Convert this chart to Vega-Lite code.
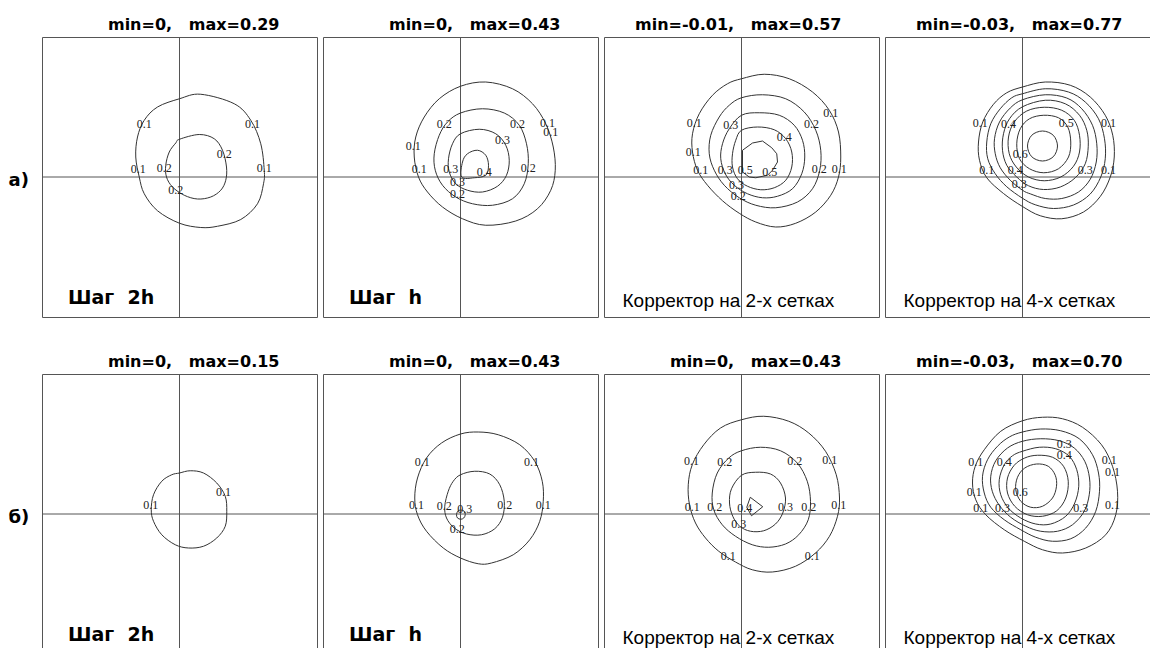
{
  "$schema": "https://vega.github.io/schema/vega-lite/v6.json",
  "padding": {"left": 8, "top": 16, "right": 0, "bottom": 0},
  "background": "white",
  "bounds": "flush",
  "spacing": {"row": 57, "column": 6},
  "data": {
    "values": [
      {"p":"a1","k":"h","t":"min=0,\u00a0\u00a0\u00a0max=0.29"},
      {"p":"a2","k":"h","t":"min=0,\u00a0\u00a0\u00a0max=0.43"},
      {"p":"a3","k":"h","t":"min=-0.01,\u00a0\u00a0\u00a0max=0.57"},
      {"p":"a4","k":"h","t":"min=-0.03,\u00a0\u00a0\u00a0max=0.77"},
      {"p":"b1","k":"h","t":"min=0,\u00a0\u00a0\u00a0max=0.15"},
      {"p":"b2","k":"h","t":"min=0,\u00a0\u00a0\u00a0max=0.43"},
      {"p":"b3","k":"h","t":"min=0,\u00a0\u00a0\u00a0max=0.43"},
      {"p":"b4","k":"h","t":"min=-0.03,\u00a0\u00a0\u00a0max=0.70"},
      {"p":"a1","k":"r","t":"а)"},
      {"p":"b1","k":"r","t":"б)"},
      {"p":"a1","k":"s","t":"Шаг\u00a0\u00a02h"},
      {"p":"a2","k":"s","t":"Шаг\u00a0\u00a0h"},
      {"p":"b1","k":"s","t":"Шаг\u00a0\u00a02h"},
      {"p":"b2","k":"s","t":"Шаг\u00a0\u00a0h"},
      {"p":"a3","k":"m","t":"Корректор на 2-х сетках"},
      {"p":"a4","k":"m","t":"Корректор на 4-х сетках"},
      {"p":"b3","k":"m","t":"Корректор на 2-х сетках"},
      {"p":"b4","k":"m","t":"Корректор на 4-х сетках"},

      {"p":"a1","k":"c","c":1,"x":0,"y":3.13},{"p":"a1","k":"c","c":1,"x":0.85,"y":3.31},{"p":"a1","k":"c","c":1,"x":2.19,"y":2.93},{"p":"a1","k":"c","c":1,"x":2.85,"y":2.27},{"p":"a1","k":"c","c":1,"x":3.25,"y":1.33},{"p":"a1","k":"c","c":1,"x":3.39,"y":0.27},{"p":"a1","k":"c","c":1,"x":3.36,"y":-0.27},{"p":"a1","k":"c","c":1,"x":3.12,"y":-1.07},{"p":"a1","k":"c","c":1,"x":2.45,"y":-1.7},{"p":"a1","k":"c","c":1,"x":1.52,"y":-1.97},{"p":"a1","k":"c","c":1,"x":0.85,"y":-2.02},{"p":"a1","k":"c","c":1,"x":0,"y":-1.85},{"p":"a1","k":"c","c":1,"x":-0.88,"y":-1.35},{"p":"a1","k":"c","c":1,"x":-1.41,"y":-0.67},{"p":"a1","k":"c","c":1,"x":-1.61,"y":0},{"p":"a1","k":"c","c":1,"x":-1.75,"y":0.8},{"p":"a1","k":"c","c":1,"x":-1.68,"y":1.6},{"p":"a1","k":"c","c":1,"x":-1.41,"y":2.27},{"p":"a1","k":"c","c":1,"x":-0.88,"y":2.8},
      {"p":"a1","k":"c","c":2,"x":0,"y":1.51},{"p":"a1","k":"c","c":2,"x":0.79,"y":1.7},{"p":"a1","k":"c","c":2,"x":1.39,"y":1.53},{"p":"a1","k":"c","c":2,"x":1.72,"y":1.07},{"p":"a1","k":"c","c":2,"x":1.88,"y":0.4},{"p":"a1","k":"c","c":2,"x":1.85,"y":-0.13},{"p":"a1","k":"c","c":2,"x":1.65,"y":-0.53},{"p":"a1","k":"c","c":2,"x":1.25,"y":-0.8},{"p":"a1","k":"c","c":2,"x":0.72,"y":-0.88},{"p":"a1","k":"c","c":2,"x":0.19,"y":-0.73},{"p":"a1","k":"c","c":2,"x":-0.28,"y":-0.4},{"p":"a1","k":"c","c":2,"x":-0.52,"y":0},{"p":"a1","k":"c","c":2,"x":-0.55,"y":0.47},{"p":"a1","k":"c","c":2,"x":-0.41,"y":1.0},{"p":"a1","k":"c","c":2,"x":-0.15,"y":1.36},
      {"p":"a1","k":"t","t":"0.1","x":-1.41,"y":2.13},{"p":"a1","k":"t","t":"0.1","x":2.92,"y":2.11},{"p":"a1","k":"t","t":"0.1","x":-1.65,"y":0.33},{"p":"a1","k":"t","t":"0.1","x":3.39,"y":0.37},{"p":"a1","k":"t","t":"0.2","x":1.79,"y":0.93},{"p":"a1","k":"t","t":"0.2","x":-0.61,"y":0.37},{"p":"a1","k":"t","t":"0.2","x":-0.15,"y":-0.53},

      {"p":"a2","k":"c","c":1,"x":0,"y":3.63},{"p":"a2","k":"c","c":1,"x":1.01,"y":3.8},{"p":"a2","k":"c","c":1,"x":2.08,"y":3.53},{"p":"a2","k":"c","c":1,"x":2.88,"y":2.93},{"p":"a2","k":"c","c":1,"x":3.41,"y":2.13},{"p":"a2","k":"c","c":1,"x":3.71,"y":1.2},{"p":"a2","k":"c","c":1,"x":3.79,"y":0.27},{"p":"a2","k":"c","c":1,"x":3.61,"y":-0.53},{"p":"a2","k":"c","c":1,"x":3.08,"y":-1.27},{"p":"a2","k":"c","c":1,"x":2.21,"y":-1.76},{"p":"a2","k":"c","c":1,"x":1.01,"y":-1.93},{"p":"a2","k":"c","c":1,"x":0.08,"y":-1.67},{"p":"a2","k":"c","c":1,"x":-0.72,"y":-1.2},{"p":"a2","k":"c","c":1,"x":-1.32,"y":-0.6},{"p":"a2","k":"c","c":1,"x":-1.68,"y":0},{"p":"a2","k":"c","c":1,"x":-1.85,"y":0.8},{"p":"a2","k":"c","c":1,"x":-1.79,"y":1.6},{"p":"a2","k":"c","c":1,"x":-1.45,"y":2.4},{"p":"a2","k":"c","c":1,"x":-0.85,"y":3.13},
      {"p":"a2","k":"c","c":2,"x":0,"y":2.56},{"p":"a2","k":"c","c":2,"x":0.88,"y":2.73},{"p":"a2","k":"c","c":2,"x":1.75,"y":2.56},{"p":"a2","k":"c","c":2,"x":2.35,"y":2.07},{"p":"a2","k":"c","c":2,"x":2.64,"y":1.33},{"p":"a2","k":"c","c":2,"x":2.71,"y":0.53},{"p":"a2","k":"c","c":2,"x":2.55,"y":-0.27},{"p":"a2","k":"c","c":2,"x":2.08,"y":-0.87},{"p":"a2","k":"c","c":2,"x":1.28,"y":-1.13},{"p":"a2","k":"c","c":2,"x":0.48,"y":-1.07},{"p":"a2","k":"c","c":2,"x":-0.19,"y":-0.8},{"p":"a2","k":"c","c":2,"x":-0.72,"y":-0.33},{"p":"a2","k":"c","c":2,"x":-1.01,"y":0.27},{"p":"a2","k":"c","c":2,"x":-1.05,"y":0.93},{"p":"a2","k":"c","c":2,"x":-0.85,"y":1.67},{"p":"a2","k":"c","c":2,"x":-0.52,"y":2.2},
      {"p":"a2","k":"c","c":3,"x":0,"y":1.73},{"p":"a2","k":"c","c":3,"x":0.75,"y":1.91},{"p":"a2","k":"c","c":3,"x":1.41,"y":1.73},{"p":"a2","k":"c","c":3,"x":1.81,"y":1.27},{"p":"a2","k":"c","c":3,"x":1.95,"y":0.67},{"p":"a2","k":"c","c":3,"x":1.84,"y":0.07},{"p":"a2","k":"c","c":3,"x":1.48,"y":-0.37},{"p":"a2","k":"c","c":3,"x":0.88,"y":-0.6},{"p":"a2","k":"c","c":3,"x":0.28,"y":-0.53},{"p":"a2","k":"c","c":3,"x":-0.19,"y":-0.27},{"p":"a2","k":"c","c":3,"x":-0.45,"y":0.2},{"p":"a2","k":"c","c":3,"x":-0.48,"y":0.73},{"p":"a2","k":"c","c":3,"x":-0.32,"y":1.33},
      {"p":"a2","k":"c","c":4,"x":0.05,"y":0},{"p":"a2","k":"c","c":4,"x":0.08,"y":0.6},{"p":"a2","k":"c","c":4,"x":0.28,"y":0.93},{"p":"a2","k":"c","c":4,"x":0.68,"y":1.07},{"p":"a2","k":"c","c":4,"x":1.01,"y":0.87},{"p":"a2","k":"c","c":4,"x":1.12,"y":0.47},{"p":"a2","k":"c","c":4,"x":1.01,"y":0.07},{"p":"a2","k":"c","c":4,"x":0.55,"y":-0.03},
      {"p":"a2","k":"t","t":"0.2","x":-0.65,"y":2.11},{"p":"a2","k":"t","t":"0.2","x":2.28,"y":2.11},{"p":"a2","k":"t","t":"0.1","x":3.48,"y":2.17},{"p":"a2","k":"t","t":"0.1","x":3.61,"y":1.8},{"p":"a2","k":"t","t":"0.3","x":1.68,"y":1.49},{"p":"a2","k":"t","t":"0.1","x":-1.89,"y":1.23},{"p":"a2","k":"t","t":"0.1","x":-1.65,"y":0.33},{"p":"a2","k":"t","t":"0.3","x":-0.39,"y":0.33},{"p":"a2","k":"t","t":"0.4","x":0.95,"y":0.2},{"p":"a2","k":"t","t":"0.2","x":2.71,"y":0.37},{"p":"a2","k":"t","t":"0.3","x":-0.12,"y":-0.2},{"p":"a2","k":"t","t":"0.2","x":-0.12,"y":-0.69},

      {"p":"a3","k":"c","c":1,"x":0,"y":3.93},{"p":"a3","k":"c","c":1,"x":0.91,"y":4.11},{"p":"a3","k":"c","c":1,"x":1.91,"y":3.93},{"p":"a3","k":"c","c":1,"x":2.84,"y":3.4},{"p":"a3","k":"c","c":1,"x":3.51,"y":2.67},{"p":"a3","k":"c","c":1,"x":3.88,"y":1.8},{"p":"a3","k":"c","c":1,"x":3.97,"y":0.8},{"p":"a3","k":"c","c":1,"x":3.88,"y":0},{"p":"a3","k":"c","c":1,"x":3.57,"y":-0.73},{"p":"a3","k":"c","c":1,"x":2.97,"y":-1.4},{"p":"a3","k":"c","c":1,"x":2.17,"y":-1.85},{"p":"a3","k":"c","c":1,"x":1.37,"y":-2.0},{"p":"a3","k":"c","c":1,"x":0.57,"y":-1.8},{"p":"a3","k":"c","c":1,"x":-0.09,"y":-1.45},{"p":"a3","k":"c","c":1,"x":-0.76,"y":-0.95},{"p":"a3","k":"c","c":1,"x":-1.36,"y":-0.33},{"p":"a3","k":"c","c":1,"x":-1.76,"y":0.27},{"p":"a3","k":"c","c":1,"x":-1.96,"y":1.0},{"p":"a3","k":"c","c":1,"x":-1.96,"y":1.73},{"p":"a3","k":"c","c":1,"x":-1.69,"y":2.53},{"p":"a3","k":"c","c":1,"x":-1.16,"y":3.27},{"p":"a3","k":"c","c":1,"x":-0.56,"y":3.73},
      {"p":"a3","k":"c","c":2,"x":0,"y":3.17},{"p":"a3","k":"c","c":2,"x":0.84,"y":3.29},{"p":"a3","k":"c","c":2,"x":1.77,"y":3.13},{"p":"a3","k":"c","c":2,"x":2.51,"y":2.6},{"p":"a3","k":"c","c":2,"x":2.97,"y":1.87},{"p":"a3","k":"c","c":2,"x":3.17,"y":1.07},{"p":"a3","k":"c","c":2,"x":3.13,"y":0.27},{"p":"a3","k":"c","c":2,"x":2.84,"y":-0.47},{"p":"a3","k":"c","c":2,"x":2.24,"y":-1.0},{"p":"a3","k":"c","c":2,"x":1.37,"y":-1.23},{"p":"a3","k":"c","c":2,"x":0.57,"y":-1.13},{"p":"a3","k":"c","c":2,"x":-0.09,"y":-0.83},{"p":"a3","k":"c","c":2,"x":-0.69,"y":-0.33},{"p":"a3","k":"c","c":2,"x":-1.09,"y":0.27},{"p":"a3","k":"c","c":2,"x":-1.29,"y":0.93},{"p":"a3","k":"c","c":2,"x":-1.23,"y":1.67},{"p":"a3","k":"c","c":2,"x":-0.89,"y":2.4},{"p":"a3","k":"c","c":2,"x":-0.49,"y":2.87},
      {"p":"a3","k":"c","c":3,"x":0,"y":2.47},{"p":"a3","k":"c","c":3,"x":0.71,"y":2.57},{"p":"a3","k":"c","c":3,"x":1.51,"y":2.47},{"p":"a3","k":"c","c":3,"x":2.11,"y":2.07},{"p":"a3","k":"c","c":3,"x":2.44,"y":1.47},{"p":"a3","k":"c","c":3,"x":2.53,"y":0.8},{"p":"a3","k":"c","c":3,"x":2.41,"y":0.13},{"p":"a3","k":"c","c":3,"x":2.04,"y":-0.47},{"p":"a3","k":"c","c":3,"x":1.44,"y":-0.77},{"p":"a3","k":"c","c":3,"x":0.84,"y":-0.83},{"p":"a3","k":"c","c":3,"x":0.24,"y":-0.67},{"p":"a3","k":"c","c":3,"x":-0.29,"y":-0.33},{"p":"a3","k":"c","c":3,"x":-0.65,"y":0.13},{"p":"a3","k":"c","c":3,"x":-0.83,"y":0.73},{"p":"a3","k":"c","c":3,"x":-0.76,"y":1.33},{"p":"a3","k":"c","c":3,"x":-0.49,"y":1.93},
      {"p":"a3","k":"c","c":4,"x":0,"y":1.87},{"p":"a3","k":"c","c":4,"x":0.64,"y":2.0},{"p":"a3","k":"c","c":4,"x":1.31,"y":1.89},{"p":"a3","k":"c","c":4,"x":1.77,"y":1.53},{"p":"a3","k":"c","c":4,"x":2.01,"y":1.0},{"p":"a3","k":"c","c":4,"x":2.01,"y":0.4},{"p":"a3","k":"c","c":4,"x":1.77,"y":-0.13},{"p":"a3","k":"c","c":4,"x":1.31,"y":-0.43},{"p":"a3","k":"c","c":4,"x":0.77,"y":-0.51},{"p":"a3","k":"c","c":4,"x":0.24,"y":-0.37},{"p":"a3","k":"c","c":4,"x":-0.16,"y":-0.07},{"p":"a3","k":"c","c":4,"x":-0.36,"y":0.4},{"p":"a3","k":"c","c":4,"x":-0.36,"y":0.93},{"p":"a3","k":"c","c":4,"x":-0.23,"y":1.47},
      {"p":"a3","k":"q","c":5,"x":0.04,"y":1.07},{"p":"a3","k":"q","c":5,"x":0.44,"y":1.36},{"p":"a3","k":"q","c":5,"x":0.84,"y":1.44},{"p":"a3","k":"q","c":5,"x":1.21,"y":1.17},{"p":"a3","k":"q","c":5,"x":1.41,"y":0.93},{"p":"a3","k":"q","c":5,"x":1.44,"y":0.6},{"p":"a3","k":"q","c":5,"x":1.24,"y":0.27},{"p":"a3","k":"q","c":5,"x":1.04,"y":0.07},{"p":"a3","k":"q","c":5,"x":0.57,"y":-0.03},{"p":"a3","k":"q","c":5,"x":0.31,"y":0},{"p":"a3","k":"q","c":5,"x":0.04,"y":0.2},
      {"p":"a3","k":"t","t":"0.1","x":-1.89,"y":2.17},{"p":"a3","k":"t","t":"0.3","x":-0.43,"y":2.07},{"p":"a3","k":"t","t":"0.1","x":3.57,"y":2.57},{"p":"a3","k":"t","t":"0.2","x":2.8,"y":2.13},{"p":"a3","k":"t","t":"0.4","x":1.71,"y":1.6},{"p":"a3","k":"t","t":"0.1","x":-1.93,"y":1.0},{"p":"a3","k":"t","t":"0.1","x":-1.63,"y":0.27},{"p":"a3","k":"t","t":"0.3","x":-0.65,"y":0.27},{"p":"a3","k":"t","t":"0.5","x":0.15,"y":0.27},{"p":"a3","k":"t","t":"0.5","x":1.13,"y":0.19},{"p":"a3","k":"t","t":"0.2","x":3.11,"y":0.33},{"p":"a3","k":"t","t":"0.1","x":3.91,"y":0.33},{"p":"a3","k":"t","t":"0.3","x":-0.2,"y":-0.31},{"p":"a3","k":"t","t":"0.2","x":-0.13,"y":-0.77},

      {"p":"a4","k":"c","c":1,"x":0,"y":3.6},{"p":"a4","k":"c","c":1,"x":0.91,"y":3.8},{"p":"a4","k":"c","c":1,"x":1.91,"y":3.67},{"p":"a4","k":"c","c":1,"x":2.71,"y":3.2},{"p":"a4","k":"c","c":1,"x":3.31,"y":2.47},{"p":"a4","k":"c","c":1,"x":3.61,"y":1.67},{"p":"a4","k":"c","c":1,"x":3.67,"y":0.8},{"p":"a4","k":"c","c":1,"x":3.51,"y":0},{"p":"a4","k":"c","c":1,"x":3.11,"y":-0.78},{"p":"a4","k":"c","c":1,"x":2.44,"y":-1.4},{"p":"a4","k":"c","c":1,"x":1.57,"y":-1.67},{"p":"a4","k":"c","c":1,"x":0.71,"y":-1.55},{"p":"a4","k":"c","c":1,"x":0,"y":-1.18},{"p":"a4","k":"c","c":1,"x":-0.76,"y":-0.66},{"p":"a4","k":"c","c":1,"x":-1.43,"y":-0.03},{"p":"a4","k":"c","c":1,"x":-1.72,"y":0.67},{"p":"a4","k":"c","c":1,"x":-1.76,"y":1.4},{"p":"a4","k":"c","c":1,"x":-1.59,"y":2.2},{"p":"a4","k":"c","c":1,"x":-1.16,"y":2.91},{"p":"a4","k":"c","c":1,"x":-0.63,"y":3.37},
      {"p":"a4","k":"c","c":2,"x":0,"y":3.33},{"p":"a4","k":"c","c":2,"x":0.91,"y":3.53},{"p":"a4","k":"c","c":2,"x":1.84,"y":3.4},{"p":"a4","k":"c","c":2,"x":2.51,"y":3.0},{"p":"a4","k":"c","c":2,"x":3.04,"y":2.33},{"p":"a4","k":"c","c":2,"x":3.28,"y":1.53},{"p":"a4","k":"c","c":2,"x":3.31,"y":0.73},{"p":"a4","k":"c","c":2,"x":3.13,"y":0},{"p":"a4","k":"c","c":2,"x":2.71,"y":-0.68},{"p":"a4","k":"c","c":2,"x":2.04,"y":-1.12},{"p":"a4","k":"c","c":2,"x":1.24,"y":-1.26},{"p":"a4","k":"c","c":2,"x":0.51,"y":-1.11},{"p":"a4","k":"c","c":2,"x":0,"y":-0.85},{"p":"a4","k":"c","c":2,"x":-0.63,"y":-0.39},{"p":"a4","k":"c","c":2,"x":-1.09,"y":0.13},{"p":"a4","k":"c","c":2,"x":-1.39,"y":0.73},{"p":"a4","k":"c","c":2,"x":-1.43,"y":1.4},{"p":"a4","k":"c","c":2,"x":-1.27,"y":2.13},{"p":"a4","k":"c","c":2,"x":-0.89,"y":2.73},{"p":"a4","k":"c","c":2,"x":-0.43,"y":3.17},
      {"p":"a4","k":"c","c":3,"x":0,"y":3.09},{"p":"a4","k":"c","c":3,"x":0.91,"y":3.29},{"p":"a4","k":"c","c":3,"x":1.77,"y":3.16},{"p":"a4","k":"c","c":3,"x":2.37,"y":2.73},{"p":"a4","k":"c","c":3,"x":2.8,"y":2.07},{"p":"a4","k":"c","c":3,"x":2.97,"y":1.33},{"p":"a4","k":"c","c":3,"x":2.95,"y":0.6},{"p":"a4","k":"c","c":3,"x":2.71,"y":-0.09},{"p":"a4","k":"c","c":3,"x":2.24,"y":-0.6},{"p":"a4","k":"c","c":3,"x":1.57,"y":-0.86},{"p":"a4","k":"c","c":3,"x":0.91,"y":-0.86},{"p":"a4","k":"c","c":3,"x":0.33,"y":-0.68},{"p":"a4","k":"c","c":3,"x":0,"y":-0.53},{"p":"a4","k":"c","c":3,"x":-0.49,"y":-0.13},{"p":"a4","k":"c","c":3,"x":-0.89,"y":0.37},{"p":"a4","k":"c","c":3,"x":-1.09,"y":0.93},{"p":"a4","k":"c","c":3,"x":-1.12,"y":1.53},{"p":"a4","k":"c","c":3,"x":-0.92,"y":2.2},{"p":"a4","k":"c","c":3,"x":-0.49,"y":2.76},
      {"p":"a4","k":"c","c":4,"x":0,"y":2.81},{"p":"a4","k":"c","c":4,"x":0.91,"y":3.07},{"p":"a4","k":"c","c":4,"x":1.71,"y":2.93},{"p":"a4","k":"c","c":4,"x":2.28,"y":2.47},{"p":"a4","k":"c","c":4,"x":2.57,"y":1.87},{"p":"a4","k":"c","c":4,"x":2.63,"y":1.23},{"p":"a4","k":"c","c":4,"x":2.51,"y":0.53},{"p":"a4","k":"c","c":4,"x":2.11,"y":-0.03},{"p":"a4","k":"c","c":4,"x":1.51,"y":-0.4},{"p":"a4","k":"c","c":4,"x":0.84,"y":-0.5},{"p":"a4","k":"c","c":4,"x":0.24,"y":-0.35},{"p":"a4","k":"c","c":4,"x":-0.23,"y":0},{"p":"a4","k":"c","c":4,"x":-0.63,"y":0.47},{"p":"a4","k":"c","c":4,"x":-0.8,"y":1.07},{"p":"a4","k":"c","c":4,"x":-0.76,"y":1.73},{"p":"a4","k":"c","c":4,"x":-0.52,"y":2.33},
      {"p":"a4","k":"c","c":5,"x":0.87,"y":2.79},{"p":"a4","k":"c","c":5,"x":1.57,"y":2.67},{"p":"a4","k":"c","c":5,"x":2.07,"y":2.27},{"p":"a4","k":"c","c":5,"x":2.28,"y":1.67},{"p":"a4","k":"c","c":5,"x":2.28,"y":1.0},{"p":"a4","k":"c","c":5,"x":2.04,"y":0.43},{"p":"a4","k":"c","c":5,"x":1.53,"y":0},{"p":"a4","k":"c","c":5,"x":0.87,"y":-0.15},{"p":"a4","k":"c","c":5,"x":0.24,"y":0},{"p":"a4","k":"c","c":5,"x":-0.25,"y":0.4},{"p":"a4","k":"c","c":5,"x":-0.53,"y":0.93},{"p":"a4","k":"c","c":5,"x":-0.56,"y":1.6},{"p":"a4","k":"c","c":5,"x":-0.33,"y":2.2},{"p":"a4","k":"c","c":5,"x":0.17,"y":2.64},
      {"p":"a4","k":"c","c":6,"x":0.85,"y":2.47},{"p":"a4","k":"c","c":6,"x":1.44,"y":2.37},{"p":"a4","k":"c","c":6,"x":1.81,"y":2.0},{"p":"a4","k":"c","c":6,"x":1.93,"y":1.4},{"p":"a4","k":"c","c":6,"x":1.84,"y":0.8},{"p":"a4","k":"c","c":6,"x":1.44,"y":0.33},{"p":"a4","k":"c","c":6,"x":0.85,"y":0.17},{"p":"a4","k":"c","c":6,"x":0.28,"y":0.33},{"p":"a4","k":"c","c":6,"x":-0.12,"y":0.73},{"p":"a4","k":"c","c":6,"x":-0.23,"y":1.33},{"p":"a4","k":"c","c":6,"x":-0.09,"y":1.93},{"p":"a4","k":"c","c":6,"x":0.28,"y":2.33},
      {"p":"a4","k":"c","c":7,"x":0.8,"y":1.84},{"p":"a4","k":"c","c":7,"x":1.23,"y":1.67},{"p":"a4","k":"c","c":7,"x":1.4,"y":1.24},{"p":"a4","k":"c","c":7,"x":1.23,"y":0.81},{"p":"a4","k":"c","c":7,"x":0.8,"y":0.64},{"p":"a4","k":"c","c":7,"x":0.37,"y":0.81},{"p":"a4","k":"c","c":7,"x":0.2,"y":1.24},{"p":"a4","k":"c","c":7,"x":0.37,"y":1.67},
      {"p":"a4","k":"t","t":"0.1","x":-1.69,"y":2.17},{"p":"a4","k":"t","t":"0.4","x":-0.56,"y":2.13},{"p":"a4","k":"t","t":"0.5","x":1.75,"y":2.17},{"p":"a4","k":"t","t":"0.1","x":3.44,"y":2.17},{"p":"a4","k":"t","t":"0.6","x":-0.09,"y":0.91},{"p":"a4","k":"t","t":"0.1","x":-1.43,"y":0.27},{"p":"a4","k":"t","t":"0.4","x":-0.29,"y":0.27},{"p":"a4","k":"t","t":"0.3","x":2.51,"y":0.27},{"p":"a4","k":"t","t":"0.1","x":3.44,"y":0.27},{"p":"a4","k":"t","t":"0.3","x":-0.13,"y":-0.27},

      {"p":"b1","k":"c","c":1,"x":0,"y":1.64},{"p":"b1","k":"c","c":1,"x":0.43,"y":1.73},{"p":"b1","k":"c","c":1,"x":0.96,"y":1.64},{"p":"b1","k":"c","c":1,"x":1.49,"y":1.24},{"p":"b1","k":"c","c":1,"x":1.83,"y":0.71},{"p":"b1","k":"c","c":1,"x":1.89,"y":0.11},{"p":"b1","k":"c","c":1,"x":1.83,"y":-0.49},{"p":"b1","k":"c","c":1,"x":1.49,"y":-0.96},{"p":"b1","k":"c","c":1,"x":0.96,"y":-1.29},{"p":"b1","k":"c","c":1,"x":0.36,"y":-1.36},{"p":"b1","k":"c","c":1,"x":-0.17,"y":-1.23},{"p":"b1","k":"c","c":1,"x":-0.71,"y":-0.83},{"p":"b1","k":"c","c":1,"x":-1.04,"y":-0.29},{"p":"b1","k":"c","c":1,"x":-1.13,"y":0.17},{"p":"b1","k":"c","c":1,"x":-1.04,"y":0.77},{"p":"b1","k":"c","c":1,"x":-0.71,"y":1.31},{"p":"b1","k":"c","c":1,"x":-0.31,"y":1.57},
      {"p":"b1","k":"t","t":"0.1","x":-1.15,"y":0.35},{"p":"b1","k":"t","t":"0.1","x":1.76,"y":0.87},

      {"p":"b2","k":"c","c":1,"x":0,"y":3.2},{"p":"b2","k":"c","c":1,"x":0.71,"y":3.28},{"p":"b2","k":"c","c":1,"x":1.51,"y":3.17},{"p":"b2","k":"c","c":1,"x":2.37,"y":2.77},{"p":"b2","k":"c","c":1,"x":2.97,"y":2.11},{"p":"b2","k":"c","c":1,"x":3.27,"y":1.31},{"p":"b2","k":"c","c":1,"x":3.31,"y":0.51},{"p":"b2","k":"c","c":1,"x":3.17,"y":-0.29},{"p":"b2","k":"c","c":1,"x":2.77,"y":-1.03},{"p":"b2","k":"c","c":1,"x":2.11,"y":-1.63},{"p":"b2","k":"c","c":1,"x":1.24,"y":-1.96},{"p":"b2","k":"c","c":1,"x":0.71,"y":-1.99},{"p":"b2","k":"c","c":1,"x":0,"y":-1.76},{"p":"b2","k":"c","c":1,"x":-0.69,"y":-1.36},{"p":"b2","k":"c","c":1,"x":-1.36,"y":-0.69},{"p":"b2","k":"c","c":1,"x":-1.72,"y":-0.03},{"p":"b2","k":"c","c":1,"x":-1.83,"y":0.64},{"p":"b2","k":"c","c":1,"x":-1.72,"y":1.44},{"p":"b2","k":"c","c":1,"x":-1.36,"y":2.24},{"p":"b2","k":"c","c":1,"x":-0.76,"y":2.84},
      {"p":"b2","k":"c","c":2,"x":0,"y":1.57},{"p":"b2","k":"c","c":2,"x":0.57,"y":1.71},{"p":"b2","k":"c","c":2,"x":1.17,"y":1.6},{"p":"b2","k":"c","c":2,"x":1.57,"y":1.17},{"p":"b2","k":"c","c":2,"x":1.75,"y":0.51},{"p":"b2","k":"c","c":2,"x":1.68,"y":-0.13},{"p":"b2","k":"c","c":2,"x":1.37,"y":-0.59},{"p":"b2","k":"c","c":2,"x":0.84,"y":-0.83},{"p":"b2","k":"c","c":2,"x":0.24,"y":-0.8},{"p":"b2","k":"c","c":2,"x":-0.25,"y":-0.56},{"p":"b2","k":"c","c":2,"x":-0.56,"y":-0.16},{"p":"b2","k":"c","c":2,"x":-0.63,"y":0.31},{"p":"b2","k":"c","c":2,"x":-0.49,"y":0.91},{"p":"b2","k":"c","c":2,"x":-0.29,"y":1.31},
      {"p":"b2","k":"c","c":3,"x":0.01,"y":0.16},{"p":"b2","k":"c","c":3,"x":0.15,"y":0.11},{"p":"b2","k":"c","c":3,"x":0.19,"y":-0.03},{"p":"b2","k":"c","c":3,"x":0.13,"y":-0.16},{"p":"b2","k":"c","c":3,"x":0.01,"y":-0.21},{"p":"b2","k":"c","c":3,"x":-0.12,"y":-0.16},{"p":"b2","k":"c","c":3,"x":-0.16,"y":-0.03},{"p":"b2","k":"c","c":3,"x":-0.11,"y":0.11},
      {"p":"b2","k":"t","t":"0.1","x":-1.53,"y":2.08},{"p":"b2","k":"t","t":"0.1","x":2.84,"y":2.08},{"p":"b2","k":"t","t":"0.1","x":-1.76,"y":0.35},{"p":"b2","k":"t","t":"0.2","x":-0.65,"y":0.31},{"p":"b2","k":"t","t":"0.3","x":0.17,"y":0.21},{"p":"b2","k":"t","t":"0.2","x":1.77,"y":0.35},{"p":"b2","k":"t","t":"0.1","x":3.31,"y":0.35},{"p":"b2","k":"t","t":"0.2","x":-0.13,"y":-0.59},

      {"p":"b3","k":"c","c":1,"x":0,"y":3.77},{"p":"b3","k":"c","c":1,"x":0.89,"y":3.91},{"p":"b3","k":"c","c":1,"x":1.89,"y":3.71},{"p":"b3","k":"c","c":1,"x":2.69,"y":3.24},{"p":"b3","k":"c","c":1,"x":3.36,"y":2.51},{"p":"b3","k":"c","c":1,"x":3.79,"y":1.57},{"p":"b3","k":"c","c":1,"x":3.92,"y":0.64},{"p":"b3","k":"c","c":1,"x":3.84,"y":-0.09},{"p":"b3","k":"c","c":1,"x":3.52,"y":-0.89},{"p":"b3","k":"c","c":1,"x":2.96,"y":-1.56},{"p":"b3","k":"c","c":1,"x":2.16,"y":-2.09},{"p":"b3","k":"c","c":1,"x":1.23,"y":-2.32},{"p":"b3","k":"c","c":1,"x":0.43,"y":-2.23},{"p":"b3","k":"c","c":1,"x":-0.24,"y":-1.92},{"p":"b3","k":"c","c":1,"x":-0.91,"y":-1.49},{"p":"b3","k":"c","c":1,"x":-1.44,"y":-0.96},{"p":"b3","k":"c","c":1,"x":-1.84,"y":-0.36},{"p":"b3","k":"c","c":1,"x":-2.08,"y":0.37},{"p":"b3","k":"c","c":1,"x":-2.13,"y":1.17},{"p":"b3","k":"c","c":1,"x":-1.97,"y":1.97},{"p":"b3","k":"c","c":1,"x":-1.51,"y":2.77},{"p":"b3","k":"c","c":1,"x":-0.84,"y":3.44},
      {"p":"b3","k":"c","c":2,"x":0,"y":2.53},{"p":"b3","k":"c","c":2,"x":0.76,"y":2.67},{"p":"b3","k":"c","c":2,"x":1.56,"y":2.53},{"p":"b3","k":"c","c":2,"x":2.23,"y":2.04},{"p":"b3","k":"c","c":2,"x":2.63,"y":1.31},{"p":"b3","k":"c","c":2,"x":2.76,"y":0.51},{"p":"b3","k":"c","c":2,"x":2.67,"y":-0.23},{"p":"b3","k":"c","c":2,"x":2.29,"y":-0.83},{"p":"b3","k":"c","c":2,"x":1.76,"y":-1.2},{"p":"b3","k":"c","c":2,"x":1.09,"y":-1.33},{"p":"b3","k":"c","c":2,"x":0.43,"y":-1.23},{"p":"b3","k":"c","c":2,"x":-0.24,"y":-0.89},{"p":"b3","k":"c","c":2,"x":-0.77,"y":-0.43},{"p":"b3","k":"c","c":2,"x":-1.11,"y":0.17},{"p":"b3","k":"c","c":2,"x":-1.17,"y":0.84},{"p":"b3","k":"c","c":2,"x":-0.97,"y":1.64},{"p":"b3","k":"c","c":2,"x":-0.51,"y":2.24},
      {"p":"b3","k":"c","c":3,"x":0,"y":1.55},{"p":"b3","k":"c","c":3,"x":0.56,"y":1.67},{"p":"b3","k":"c","c":3,"x":1.16,"y":1.6},{"p":"b3","k":"c","c":3,"x":1.56,"y":1.24},{"p":"b3","k":"c","c":3,"x":1.76,"y":0.64},{"p":"b3","k":"c","c":3,"x":1.65,"y":0.04},{"p":"b3","k":"c","c":3,"x":1.36,"y":-0.4},{"p":"b3","k":"c","c":3,"x":0.89,"y":-0.67},{"p":"b3","k":"c","c":3,"x":0.36,"y":-0.69},{"p":"b3","k":"c","c":3,"x":-0.07,"y":-0.49},{"p":"b3","k":"c","c":3,"x":-0.35,"y":-0.09},{"p":"b3","k":"c","c":3,"x":-0.48,"y":0.44},{"p":"b3","k":"c","c":3,"x":-0.4,"y":1.01},
      {"p":"b3","k":"q","c":4,"x":0.35,"y":0.67},{"p":"b3","k":"q","c":4,"x":0.85,"y":0.29},{"p":"b3","k":"q","c":4,"x":0.4,"y":-0.07},{"p":"b3","k":"q","c":4,"x":0.21,"y":0.27},
      {"p":"b3","k":"t","t":"0.1","x":-2.0,"y":2.13},{"p":"b3","k":"t","t":"0.2","x":-0.67,"y":2.08},{"p":"b3","k":"t","t":"0.2","x":2.13,"y":2.11},{"p":"b3","k":"t","t":"0.1","x":3.53,"y":2.15},{"p":"b3","k":"t","t":"0.1","x":-1.97,"y":0.27},{"p":"b3","k":"t","t":"0.2","x":-1.07,"y":0.27},{"p":"b3","k":"t","t":"0.4","x":0.13,"y":0.24},{"p":"b3","k":"t","t":"0.3","x":1.76,"y":0.27},{"p":"b3","k":"t","t":"0.2","x":2.69,"y":0.27},{"p":"b3","k":"t","t":"0.1","x":3.89,"y":0.35},{"p":"b3","k":"t","t":"0.3","x":-0.11,"y":-0.4},{"p":"b3","k":"t","t":"0.1","x":-0.53,"y":-1.69},{"p":"b3","k":"t","t":"0.1","x":2.83,"y":-1.69},

      {"p":"b4","k":"c","c":1,"x":0,"y":3.73},{"p":"b4","k":"c","c":1,"x":0.8,"y":3.87},{"p":"b4","k":"c","c":1,"x":1.6,"y":3.81},{"p":"b4","k":"c","c":1,"x":2.4,"y":3.47},{"p":"b4","k":"c","c":1,"x":3.16,"y":2.77},{"p":"b4","k":"c","c":1,"x":3.6,"y":1.91},{"p":"b4","k":"c","c":1,"x":3.8,"y":0.91},{"p":"b4","k":"c","c":1,"x":3.73,"y":-0.03},{"p":"b4","k":"c","c":1,"x":3.33,"y":-0.83},{"p":"b4","k":"c","c":1,"x":2.53,"y":-1.36},{"p":"b4","k":"c","c":1,"x":1.6,"y":-1.56},{"p":"b4","k":"c","c":1,"x":0.8,"y":-1.43},{"p":"b4","k":"c","c":1,"x":0.07,"y":-1.09},{"p":"b4","k":"c","c":1,"x":-0.73,"y":-0.63},{"p":"b4","k":"c","c":1,"x":-1.47,"y":-0.03},{"p":"b4","k":"c","c":1,"x":-1.87,"y":0.57},{"p":"b4","k":"c","c":1,"x":-2.0,"y":1.24},{"p":"b4","k":"c","c":1,"x":-1.89,"y":1.91},{"p":"b4","k":"c","c":1,"x":-1.53,"y":2.57},{"p":"b4","k":"c","c":1,"x":-0.87,"y":3.31},
      {"p":"b4","k":"c","c":2,"x":0,"y":3.28},{"p":"b4","k":"c","c":2,"x":0.73,"y":3.4},{"p":"b4","k":"c","c":2,"x":1.53,"y":3.33},{"p":"b4","k":"c","c":2,"x":2.27,"y":3.01},{"p":"b4","k":"c","c":2,"x":2.8,"y":2.37},{"p":"b4","k":"c","c":2,"x":3.04,"y":1.64},{"p":"b4","k":"c","c":2,"x":3.08,"y":0.91},{"p":"b4","k":"c","c":2,"x":2.93,"y":0.11},{"p":"b4","k":"c","c":2,"x":2.53,"y":-0.56},{"p":"b4","k":"c","c":2,"x":1.93,"y":-0.99},{"p":"b4","k":"c","c":2,"x":1.2,"y":-1.09},{"p":"b4","k":"c","c":2,"x":0.53,"y":-0.93},{"p":"b4","k":"c","c":2,"x":-0.07,"y":-0.63},{"p":"b4","k":"c","c":2,"x":-0.73,"y":-0.23},{"p":"b4","k":"c","c":2,"x":-1.27,"y":0.27},{"p":"b4","k":"c","c":2,"x":-1.53,"y":0.84},{"p":"b4","k":"c","c":2,"x":-1.6,"y":1.51},{"p":"b4","k":"c","c":2,"x":-1.4,"y":2.17},{"p":"b4","k":"c","c":2,"x":-1.0,"y":2.71},{"p":"b4","k":"c","c":2,"x":-0.53,"y":3.08},
      {"p":"b4","k":"c","c":3,"x":0,"y":2.91},{"p":"b4","k":"c","c":3,"x":0.73,"y":3.01},{"p":"b4","k":"c","c":3,"x":1.47,"y":2.93},{"p":"b4","k":"c","c":3,"x":2.07,"y":2.64},{"p":"b4","k":"c","c":3,"x":2.49,"y":2.11},{"p":"b4","k":"c","c":3,"x":2.68,"y":1.44},{"p":"b4","k":"c","c":3,"x":2.67,"y":0.77},{"p":"b4","k":"c","c":3,"x":2.47,"y":0.11},{"p":"b4","k":"c","c":3,"x":2.0,"y":-0.43},{"p":"b4","k":"c","c":3,"x":1.4,"y":-0.69},{"p":"b4","k":"c","c":3,"x":0.73,"y":-0.69},{"p":"b4","k":"c","c":3,"x":0.13,"y":-0.49},{"p":"b4","k":"c","c":3,"x":-0.47,"y":-0.13},{"p":"b4","k":"c","c":3,"x":-0.93,"y":0.35},{"p":"b4","k":"c","c":3,"x":-1.21,"y":0.91},{"p":"b4","k":"c","c":3,"x":-1.27,"y":1.51},{"p":"b4","k":"c","c":3,"x":-1.07,"y":2.13},{"p":"b4","k":"c","c":3,"x":-0.6,"y":2.64},
      {"p":"b4","k":"c","c":4,"x":0,"y":2.51},{"p":"b4","k":"c","c":4,"x":0.67,"y":2.67},{"p":"b4","k":"c","c":4,"x":1.33,"y":2.61},{"p":"b4","k":"c","c":4,"x":1.87,"y":2.31},{"p":"b4","k":"c","c":4,"x":2.17,"y":1.77},{"p":"b4","k":"c","c":4,"x":2.25,"y":1.11},{"p":"b4","k":"c","c":4,"x":2.09,"y":0.44},{"p":"b4","k":"c","c":4,"x":1.73,"y":-0.09},{"p":"b4","k":"c","c":4,"x":1.13,"y":-0.4},{"p":"b4","k":"c","c":4,"x":0.53,"y":-0.4},{"p":"b4","k":"c","c":4,"x":-0.07,"y":-0.16},{"p":"b4","k":"c","c":4,"x":-0.57,"y":0.24},{"p":"b4","k":"c","c":4,"x":-0.87,"y":0.77},{"p":"b4","k":"c","c":4,"x":-0.93,"y":1.37},{"p":"b4","k":"c","c":4,"x":-0.73,"y":1.97},{"p":"b4","k":"c","c":4,"x":-0.4,"y":2.33},
      {"p":"b4","k":"c","c":5,"x":0.6,"y":2.35},{"p":"b4","k":"c","c":5,"x":1.2,"y":2.27},{"p":"b4","k":"c","c":5,"x":1.64,"y":1.91},{"p":"b4","k":"c","c":5,"x":1.83,"y":1.31},{"p":"b4","k":"c","c":5,"x":1.73,"y":0.64},{"p":"b4","k":"c","c":5,"x":1.37,"y":0.13},{"p":"b4","k":"c","c":5,"x":0.8,"y":-0.09},{"p":"b4","k":"c","c":5,"x":0.2,"y":-0.03},{"p":"b4","k":"c","c":5,"x":-0.31,"y":0.31},{"p":"b4","k":"c","c":5,"x":-0.6,"y":0.84},{"p":"b4","k":"c","c":5,"x":-0.6,"y":1.44},{"p":"b4","k":"c","c":5,"x":-0.33,"y":1.95},{"p":"b4","k":"c","c":5,"x":0.09,"y":2.24},
      {"p":"b4","k":"c","c":6,"x":0.56,"y":2.0},{"p":"b4","k":"c","c":6,"x":1.03,"y":1.91},{"p":"b4","k":"c","c":6,"x":1.31,"y":1.55},{"p":"b4","k":"c","c":6,"x":1.36,"y":1.11},{"p":"b4","k":"c","c":6,"x":1.2,"y":0.64},{"p":"b4","k":"c","c":6,"x":0.8,"y":0.31},{"p":"b4","k":"c","c":6,"x":0.33,"y":0.27},{"p":"b4","k":"c","c":6,"x":-0.07,"y":0.51},{"p":"b4","k":"c","c":6,"x":-0.27,"y":0.97},{"p":"b4","k":"c","c":6,"x":-0.2,"y":1.47},{"p":"b4","k":"c","c":6,"x":0.09,"y":1.84},
      {"p":"b4","k":"t","t":"0.1","x":-1.87,"y":2.07},{"p":"b4","k":"t","t":"0.4","x":-0.73,"y":2.07},{"p":"b4","k":"t","t":"0.3","x":1.67,"y":2.8},{"p":"b4","k":"t","t":"0.4","x":1.67,"y":2.35},{"p":"b4","k":"t","t":"0.1","x":3.47,"y":2.15},{"p":"b4","k":"t","t":"0.1","x":3.6,"y":1.67},{"p":"b4","k":"t","t":"0.1","x":-1.93,"y":0.87},{"p":"b4","k":"t","t":"0.6","x":-0.09,"y":0.87},{"p":"b4","k":"t","t":"0.1","x":-1.67,"y":0.24},{"p":"b4","k":"t","t":"0.3","x":-0.8,"y":0.24},{"p":"b4","k":"t","t":"0.3","x":2.33,"y":0.24},{"p":"b4","k":"t","t":"0.1","x":3.6,"y":0.35}
    ]
  },
  "transform": [
    {
      "lookup": "p",
      "from": {
        "data": {
          "values": [
            {"p":"a1","r":"a","q":1},{"p":"a2","r":"a","q":2},{"p":"a3","r":"a","q":3},{"p":"a4","r":"a","q":4},
            {"p":"b1","r":"b","q":1},{"p":"b2","r":"b","q":2},{"p":"b3","r":"b","q":3},{"p":"b4","r":"b","q":4}
          ]
        },
        "key": "p",
        "fields": ["r", "q"]
      }
    }
  ],
  "facet": {
    "row": {"field": "r", "type": "nominal", "header": null},
    "column": {"field": "q", "type": "ordinal", "header": null}
  },
  "spec": {
    "width": 275,
    "height": 280,
    "layer": [
      {
        "transform": [{"filter": "datum.k === 'h'"}],
        "mark": {"type": "rule", "color": "#555", "strokeWidth": 1},
        "encoding": {
          "x": {"datum": 0, "type": "quantitative", "scale": {"domain": [-5.5, 5.5], "nice": false, "zero": false}, "axis": null}
        }
      },
      {
        "transform": [{"filter": "datum.k === 'h'"}],
        "mark": {"type": "rule", "color": "#555", "strokeWidth": 1},
        "encoding": {
          "y": {"datum": 0, "type": "quantitative", "scale": {"domain": [-5.6, 5.6], "nice": false, "zero": false}, "axis": null}
        }
      },
      {
        "transform": [{"filter": "datum.k === 'c'"}],
        "mark": {"type": "line", "interpolate": "cardinal-closed", "color": "#333", "strokeWidth": 1},
        "encoding": {
          "x": {"field": "x", "type": "quantitative", "scale": {"domain": [-5.5, 5.5], "nice": false, "zero": false}, "axis": null},
          "y": {"field": "y", "type": "quantitative", "scale": {"domain": [-5.6, 5.6], "nice": false, "zero": false}, "axis": null},
          "detail": {"field": "c", "type": "nominal"},
          "order": {"value": null}
        }
      },
      {
        "transform": [{"filter": "datum.k === 'q'"}],
        "mark": {"type": "line", "interpolate": "linear-closed", "color": "#333", "strokeWidth": 1},
        "encoding": {
          "x": {"field": "x", "type": "quantitative", "scale": {"domain": [-5.5, 5.5], "nice": false, "zero": false}, "axis": null},
          "y": {"field": "y", "type": "quantitative", "scale": {"domain": [-5.6, 5.6], "nice": false, "zero": false}, "axis": null},
          "detail": {"field": "c", "type": "nominal"},
          "order": {"value": null}
        }
      },
      {
        "transform": [{"filter": "datum.k === 't'"}],
        "mark": {"type": "text", "font": "Liberation Serif", "fontSize": 12, "color": "#222", "align": "center", "baseline": "middle"},
        "encoding": {
          "x": {"field": "x", "type": "quantitative", "scale": {"domain": [-5.5, 5.5], "nice": false, "zero": false}, "axis": null},
          "y": {"field": "y", "type": "quantitative", "scale": {"domain": [-5.6, 5.6], "nice": false, "zero": false}, "axis": null},
          "text": {"field": "t"}
        }
      },
      {
        "transform": [{"filter": "datum.k === 'h'"}],
        "mark": {"type": "text", "font": "DejaVu Sans", "fontWeight": "bold", "fontSize": 16, "color": "#000", "align": "right", "baseline": "top"},
        "encoding": {
          "x": {"datum": 4.0, "type": "quantitative", "scale": {"domain": [-5.5, 5.5], "nice": false, "zero": false}, "axis": null},
          "y": {"datum": 6.4, "type": "quantitative", "scale": {"domain": [-5.6, 5.6], "nice": false, "zero": false}, "axis": null},
          "text": {"field": "t"}
        }
      },
      {
        "transform": [{"filter": "datum.k === 's'"}],
        "mark": {"type": "text", "font": "DejaVu Sans", "fontWeight": "bold", "fontSize": 19, "color": "#000", "align": "left", "baseline": "alphabetic"},
        "encoding": {
          "x": {"datum": -4.46, "type": "quantitative", "scale": {"domain": [-5.5, 5.5], "nice": false, "zero": false}, "axis": null},
          "y": {"datum": -5.08, "type": "quantitative", "scale": {"domain": [-5.6, 5.6], "nice": false, "zero": false}, "axis": null},
          "text": {"field": "t"}
        }
      },
      {
        "transform": [{"filter": "datum.k === 'm'"}],
        "mark": {"type": "text", "font": "Liberation Sans", "fontSize": 19, "color": "#000", "align": "left", "baseline": "alphabetic"},
        "encoding": {
          "x": {"datum": -4.76, "type": "quantitative", "scale": {"domain": [-5.5, 5.5], "nice": false, "zero": false}, "axis": null},
          "y": {"datum": -5.2, "type": "quantitative", "scale": {"domain": [-5.6, 5.6], "nice": false, "zero": false}, "axis": null},
          "text": {"field": "t"}
        }
      },
      {
        "transform": [{"filter": "datum.k === 'r'"}],
        "mark": {"type": "text", "font": "DejaVu Sans", "fontWeight": "bold", "fontSize": 18, "color": "#000", "align": "left", "baseline": "alphabetic"},
        "encoding": {
          "x": {"datum": -6.84, "type": "quantitative", "scale": {"domain": [-5.5, 5.5], "nice": false, "zero": false}, "axis": null},
          "y": {"datum": -0.37, "type": "quantitative", "scale": {"domain": [-5.6, 5.6], "nice": false, "zero": false}, "axis": null},
          "text": {"field": "t"}
        }
      }
    ]
  },
  "config": {
    "view": {"stroke": "#555", "strokeWidth": 1},
    "axis": {"disable": true},
    "header": {"labels": false, "title": null}
  }
}
